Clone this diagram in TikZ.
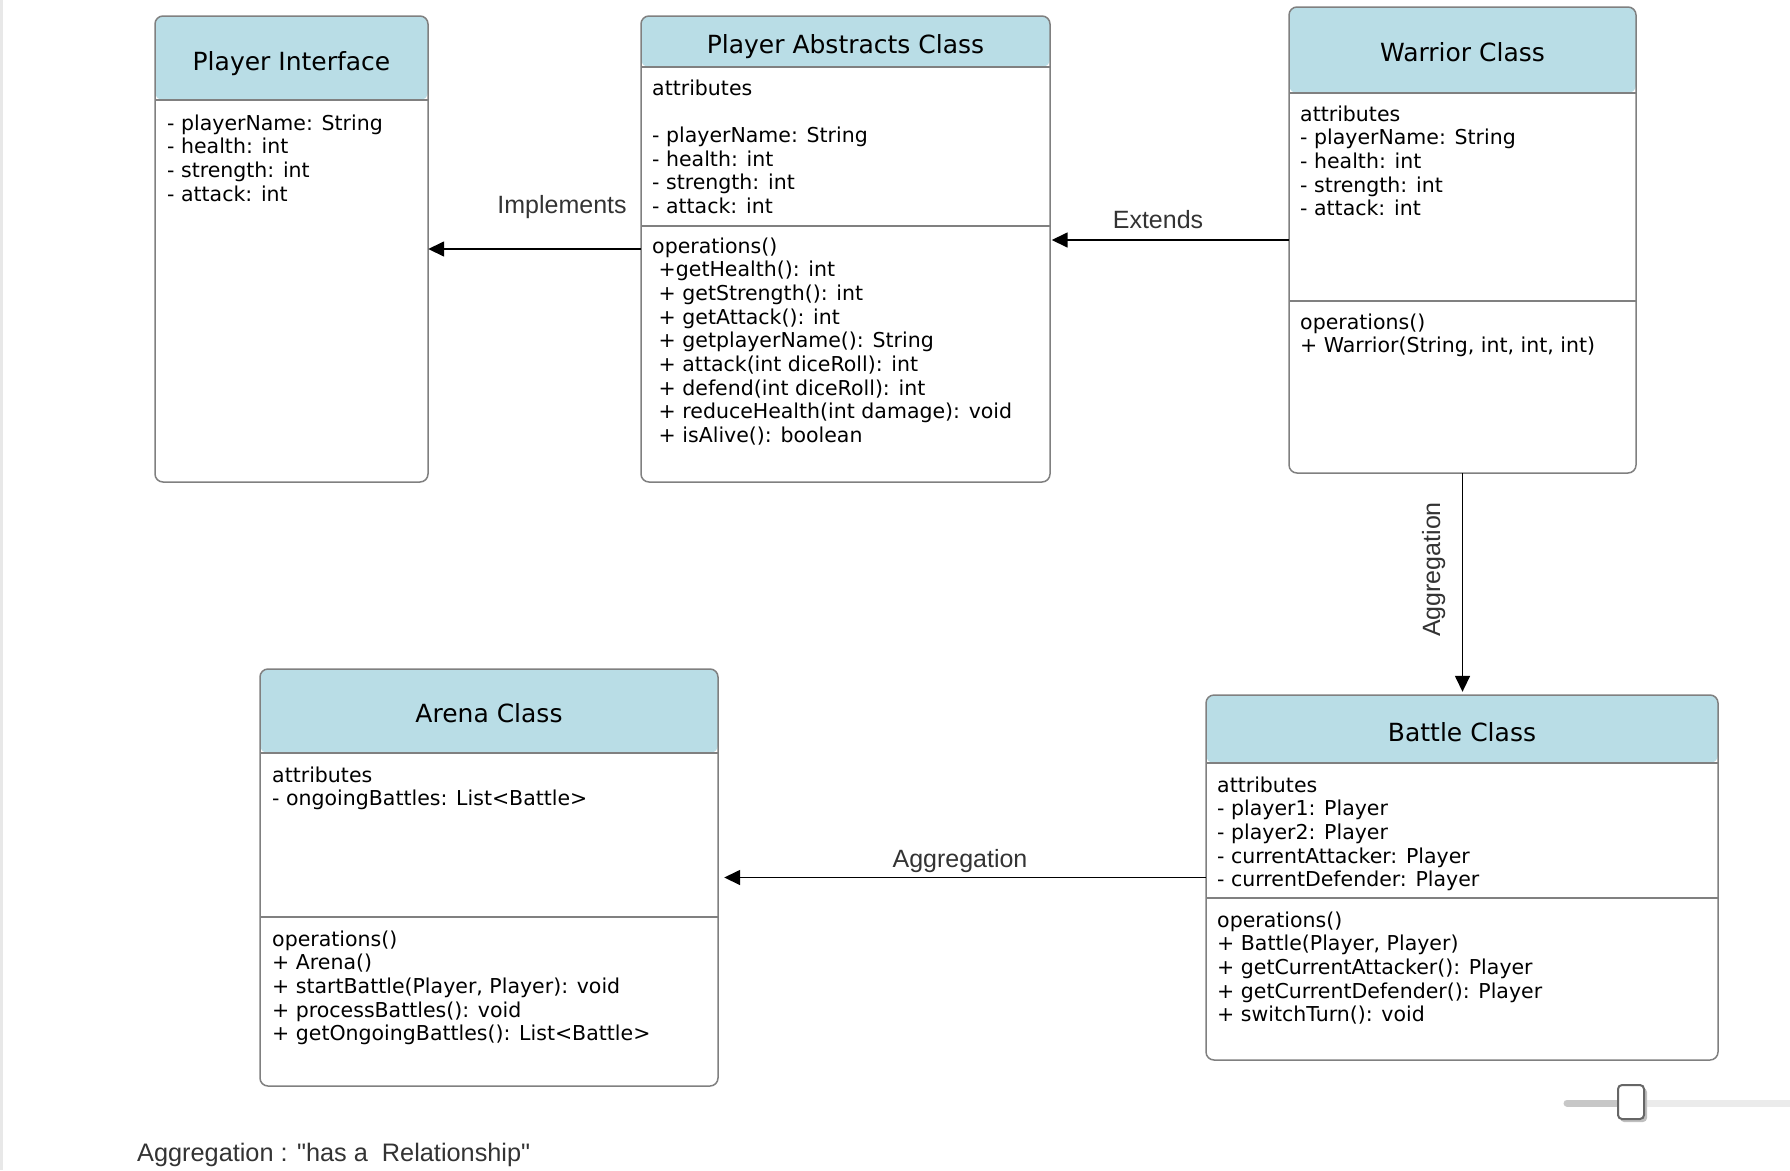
\documentclass[tikz,border=0pt]{standalone}
\usepackage{fontspec}
\usepackage{tikz}
\usetikzlibrary{arrows.meta}
\newfontfamily\boxfont{DejaVu Sans}
\newfontfamily\labelfont{Liberation Sans}
\definecolor{headblue}{RGB}{185,221,230}
\definecolor{edgegray}{RGB}{128,128,128}
\definecolor{labelgray}{RGB}{51,51,51}
\newcommand{\members}[1]{\boxfont\fontsize{20.5}{23.7}\selectfont
  \begin{tabular}[t]{@{}l@{}}#1\end{tabular}}

\begin{document}
\begin{tikzpicture}[x=1pt,y=-1pt,>={Triangle[length=16pt,width=15pt]},
      class/.style={fill=white,rounded corners=8pt,inner sep=0pt,
        postaction={draw=edgegray,line width=1.5pt}},
      head/.style={path picture={\fill[headblue] (path picture bounding box.north west)
          rectangle ([yshift=-#1]path picture bounding box.north east);
          \draw[edgegray,line width=1.5pt] ([yshift=-#1]path picture bounding box.north west)
          -- ([yshift=-#1]path picture bounding box.north east);}},
      title/.style={anchor=base,font=\boxfont\fontsize{25}{30}\selectfont},
      body/.style={anchor=base west,inner sep=0pt},
      divider/.style={draw=edgegray,line width=1.5pt},
      link/.style={->,line width=1.6pt},
      rel/.style={anchor=base,inner sep=0pt,text=labelgray,font=\labelfont\fontsize{25}{30}\selectfont}]
      \useasboundingbox (0,0) rectangle (1790,1170);
      \fill[black!9] (0,0) rectangle (3,1170);

      % player interface
      \node[class,head=84pt,minimum width=273pt,minimum height=466pt] (pi) at (291.5,249) {};
      \node[title] (pi-t) at (291.5,70) {Player Interface};
      \node[body] (pi-a) at (167,130) {\members{- playerName: String\\ - health: int\\
          - strength: int\\ - attack: int}};

      % player abstracts class
      \node[class,head=51pt,minimum width=409pt,minimum height=466pt] (pac) at (845.5,249) {};
      \draw[divider] (pac.west |- 0,226) -- (pac.east |- 0,226);
      \node[title] (pac-t) at (845.5,53) {Player Abstracts Class};
      \node[body] (pac-a) at (652,95) {\members{attributes\\ \\ - playerName: String\\
          - health: int\\ - strength: int\\ - attack: int}};
      \node[body] (pac-o) at (652,253) {\members{operations()\\ \ +getHealth(): int\\
          \ + getStrength(): int\\ \ + getAttack(): int\\ \ + getplayerName(): String\\
          \ + attack(int diceRoll): int\\ \ + defend(int diceRoll): int\\
          \ + reduceHealth(int damage): void\\ \ + isAlive(): boolean}};

      % warrior class
      \node[class,head=86pt,minimum width=347pt,minimum height=466pt] (war) at (1462.5,240) {};
      \draw[divider] (war.west |- 0,301) -- (war.east |- 0,301);
      \node[title] (war-t) at (1462.5,61) {Warrior Class};
      \node[body] (war-a) at (1300,121) {\members{attributes\\ - playerName: String\\
          - health: int\\ - strength: int\\ - attack: int}};
      \node[body] (war-o) at (1300,329) {\members{operations()\\
          + Warrior(String, int, int, int)}};

      % arena class
      \node[class,head=84pt,minimum width=458pt,minimum height=417pt] (arena) at (489,877.5) {};
      \draw[divider] (arena.west |- 0,917) -- (arena.east |- 0,917);
      \node[title] (arena-t) at (489,722) {Arena Class};
      \node[body] (arena-a) at (272,782) {\members{attributes\\
          - ongoingBattles: List<Battle>}};
      \node[body] (arena-o) at (272,946) {\members{operations()\\ + Arena()\\
          + startBattle(Player, Player): void\\ + processBattles(): void\\
          + getOngoingBattles(): List<Battle>}};

      % battle class
      \node[class,head=68pt,minimum width=512pt,minimum height=365pt] (bat) at (1462,877.5) {};
      \draw[divider] (bat.west |- 0,898) -- (bat.east |- 0,898);
      \node[title] (bat-t) at (1462,741) {Battle Class};
      \node[body] (bat-a) at (1217,792) {\members{attributes\\ - player1: Player\\
          - player2: Player\\ - currentAttacker: Player\\ - currentDefender: Player}};
      \node[body] (bat-o) at (1217,927) {\members{operations()\\ + Battle(Player, Player)\\
          + getCurrentAttacker(): Player\\ + getCurrentDefender(): Player\\
          + switchTurn(): void}};

      \draw[link] (pac) -- (pi);
      \draw[link,shorten >=1.5pt] (war.west) -- (war.west -| pac.east);
      \draw[link,shorten >=3pt] (war.south) -- (war.south |- bat.north);
      \draw[link,shorten >=6pt] (bat) -- (arena);

      \node[rel] (impl) at (562,213) {Implements};
      \node[rel] (ext) at (1158,228) {Extends};
      \node[rel,rotate=90] (agg-v) at (1440,569.5) {Aggregation};
      \node[rel] (agg-h) at (960,867) {Aggregation};
      \node[rel,anchor=base west,font=\labelfont\fontsize{25.3}{30}\selectfont] (note)
        at (137,1161) {Aggregation : "has a\ \ Relationship"};

      % slider
      \draw[line width=7pt,line cap=round,black!22] (1567,1103) -- (1618,1103);
      \draw[line width=7pt,black!8] (1618,1103) -- (1790,1103);
      \fill[black!25,rounded corners=4pt] (1620,1088) rectangle (1647,1122);
      \draw[fill=white,draw=black!60,line width=2pt,rounded corners=4pt] (1618,1085) rectangle (1644,1119);
\end{tikzpicture}
\end{document}
